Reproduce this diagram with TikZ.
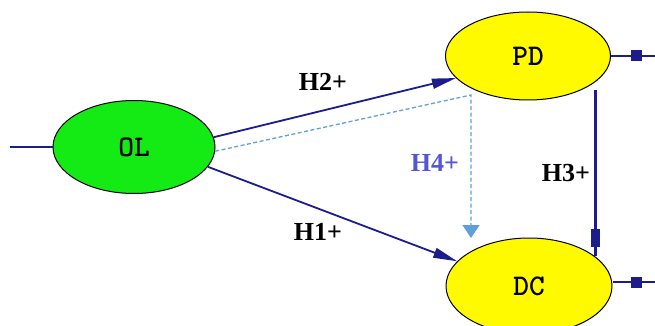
\documentclass[tikz,border=0pt]{standalone}
\usepackage{fontspec}
\setmainfont{Liberation Serif}
\usetikzlibrary{arrows.meta,shapes.geometric}
\definecolor{navy}{RGB}{28,28,140}
\definecolor{lblue}{RGB}{95,160,220}
\definecolor{hpurple}{RGB}{85,85,215}
\definecolor{olgreen}{RGB}{20,235,20}
\definecolor{ylw}{RGB}{255,250,0}
\begin{document}
\begin{tikzpicture}[x=1pt,y=-1pt,
  construct/.style={ellipse, draw=black, line width=1pt, inner sep=0pt,
     font=\ttfamily\bfseries\fontsize{30}{32}\selectfont},
  link/.style={draw=navy, line width=1.8pt},
  dlink/.style={draw=lblue, line width=1.3pt, dash pattern=on 4pt off 2.5pt},
  blockmark/.style={rectangle, fill=navy, inner sep=0pt, sloped,
     minimum width=11pt, minimum height=11pt},
  hlabel/.style={font=\bfseries\fontsize{26}{28}\selectfont, inner sep=0pt},
  navyhead/.style={-{Triangle[length=24pt,width=10pt]}}
]
\useasboundingbox (0,0) rectangle (655,326);

% constructs
\node[construct, fill=olgreen, minimum width=162pt, minimum height=93pt] (OL) at (134,147) {OL};
\node[construct, fill=ylw, minimum width=165pt, minimum height=88pt] (PD) at (528,56) {PD};
\node[construct, fill=ylw, minimum width=166pt, minimum height=96pt] (DC) at (529,286) {DC};

% free ends
\coordinate (inOL) at (10,147);
\coordinate (ePD) at (655,56);
\coordinate (eDC) at (655,282);
\coordinate (h4c) at (471,95);
\coordinate (h4e) at (471,238);

% input line to OL
\draw[link] (inOL) -- (OL.west);

% error terms
\draw[link] (ePD) -- node[blockmark, pos=0.43] {} (PD.east);
\draw[link] (eDC) -- node[blockmark, pos=0.43] {} (DC.east |- eDC);

% H4 (dashed)
\draw[dlink, -{Triangle[length=13pt,width=17pt]}] (OL.-3) -- (h4c) -- (h4e);

% H2
\draw[link, navyhead] (OL.7) -- (PD.197);
% H1
\draw[link, navyhead] (OL.-15.5) -- (DC.161.6);
% H3
\draw[link, line width=2.4pt] ([yshift=-8pt]PD.-21.5) -- node[blockmark, pos=0.89, minimum width=18pt, minimum height=9pt] {} (PD.-21.5 |- DC.24.8);

% labels
\node[hlabel] (lH2) at (323,82) {H2+};
\node[hlabel, text=hpurple] (lH4) at (435,163) {H4+};
\node[hlabel] (lH3) at (566,173) {H3+};
\node[hlabel] (lH1) at (318,232) {H1+};
\end{tikzpicture}
\end{document}
